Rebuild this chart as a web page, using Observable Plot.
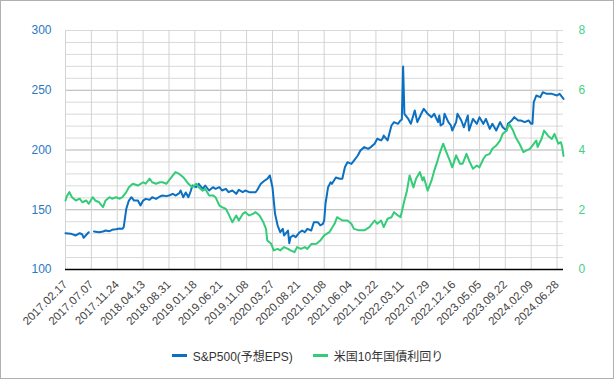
<!DOCTYPE html>
<html>
<head>
<meta charset="utf-8">
<script src="https://cdn.jsdelivr.net/npm/d3@7"></script>
<script src="https://cdn.jsdelivr.net/npm/@observablehq/plot@0.6"></script>
<style>
  html, body { margin: 0; padding: 0; background: #fff; }
  #wrap { position: relative; width: 615px; height: 380px; font-family: "Liberation Sans", Arial, "Noto Sans CJK JP", sans-serif; }
  #frame { position: absolute; left: 0; top: 0; width: 614px; height: 379px; box-sizing: border-box; border: 1px solid #b0b0b0; pointer-events: none; }
  #chart { position: absolute; left: 0; top: 0; }
  #legend { position: absolute; left: 0; top: 340px; width: 615px; height: 30px; display: flex; justify-content: center; align-items: center; gap: 20px; font-size: 12px; color: #333; font-family: "Liberation Sans", Arial, "Noto Sans CJK JP", sans-serif; }
  .item { display: flex; align-items: center; }
  .sw { width: 15px; height: 3px; margin-right: 6px; }
</style>
</head>
<body>
<div id="wrap">
  <div id="chart"></div>
  <div id="legend"></div>
  <div id="frame"></div>
</div>
<script>
// Weekly category axis (index = weeks since 2017.02.17)
const tickLabels = ["2017.02.17","2017.07.07","2017.11.24","2018.04.13","2018.08.31","2019.01.18","2019.06.21","2019.11.08","2020.03.27","2020.08.21","2021.01.08","2021.06.04","2021.10.22","2022.03.11","2022.07.29","2022.12.16","2023.05.05","2023.09.22","2024.02.09","2024.06.28"];
const tickWeeks = [0,20,40,60,80,100,120,140,160,180,200,220,240,260,280,300,320,340,360,380];

const seriesNames = ["S&P500(予想EPS)", "米国10年国債利回り"];

// S&P500 forward EPS (left axis)
const epsWeek = [0,4,8,11,13,14,17,18,20,22,26,29,31,34,36,39,42,44,45,47,49,51,53,56,58,60,62,65,67,70,73,75,78,80,83,85,88,89,91,93,95,97,98,101,103,106,108,111,114,116,119,121,124,126,129,132,134,137,139,142,145,147,148,151,154,156,158,160,161,162,164,166,168,169,170,172,173,174,176,178,181,183,185,187,190,192,195,197,199,200,201,203,205,206,209,212,214,216,218,221,223,226,228,231,234,236,239,241,244,245,246,249,252,254,257,259,260,261,262,265,267,270,272,275,277,280,283,285,288,289,290,292,293,296,298,299,302,303,306,308,311,312,315,318,320,323,325,328,330,333,336,338,341,342,345,347,350,352,355,358,360,361,362,364,367,369,372,376,380,382,384,385];
const epsValue = [130.4,130.0,128.5,130.4,129.3,126.5,130.1,131.2,NaN,131.8,131.2,131.8,132.6,132.1,133.2,133.7,134.3,134.0,135.4,150.8,157.7,160.5,157.7,157.7,153.6,157.7,159.1,158.3,160.5,159.1,161.1,161.9,161.4,161.9,163.3,161.9,163.9,166.1,160.5,164.5,160.5,166.1,170.3,168.9,171.7,167.5,170.3,166.1,168.9,167.5,168.9,166.1,167.5,164.7,166.1,163.3,166.7,164.7,166.1,164.7,164.7,164.7,166.1,171.7,174.5,175.9,178.7,168.9,157.7,146.6,136.8,131.2,134.0,128.5,129.9,132.6,122.0,127.0,128.5,127.1,131.2,132.6,131.2,134.0,132.6,139.6,139.6,137.0,138.2,141.0,155.0,168.9,173.0,171.7,177.0,175.9,175.9,185.6,189.8,188.4,191.2,195.4,199.6,202.4,201.0,202.4,205.2,209.4,208.0,209.4,212.1,208.0,220.5,223.3,221.9,224.7,225.5,269.9,230.3,226.0,221.9,233.0,223.3,230.3,234.5,230.3,227.5,230.3,223.3,228.9,220.5,222.0,230.3,223.3,220.5,216.3,223.3,230.3,224.7,219.0,228.9,216.3,226.0,221.9,227.4,221.9,226.0,217.7,221.9,216.3,223.3,219.1,216.3,221.9,224.7,227.5,224.7,224.7,223.3,224.7,221.9,222.0,240.0,245.6,244.2,248.4,247.0,247.0,245.6,247.0,244.2,242.8];

// US 10-year Treasury yield (right axis, %)
const yldWeek = [0,1,3,5,8,11,13,16,18,21,23,26,29,31,34,36,39,42,44,47,49,52,56,60,62,65,67,70,73,75,78,80,83,85,88,91,93,95,98,101,103,106,108,111,114,116,119,121,124,126,129,132,134,137,139,142,145,147,150,153,155,156,159,161,164,166,169,172,174,177,179,182,185,187,190,194,197,200,204,208,210,214,218,221,223,227,231,235,239,241,244,246,249,252,254,257,259,262,264,266,269,271,274,276,277,280,283,285,287,289,291,292,294,297,299,302,305,307,310,312,315,318,320,323,325,328,330,333,336,338,341,343,346,348,351,354,356,359,361,364,365,368,370,373,376,378,381,383,384,385];
const yldValue = [2.31,2.45,2.59,2.42,2.31,2.37,2.25,2.31,2.20,2.42,2.31,2.25,2.09,2.31,2.42,2.37,2.42,2.37,2.42,2.59,2.75,2.87,2.81,2.92,2.87,3.04,2.92,2.87,2.92,2.92,2.87,2.98,3.15,3.26,3.20,3.09,2.98,2.87,2.75,2.87,2.75,2.64,2.70,2.48,2.48,2.42,2.14,2.09,2.03,1.86,1.58,1.81,1.64,1.86,1.92,1.81,1.86,1.92,1.81,1.58,1.36,0.97,0.86,0.64,0.69,0.64,0.75,0.69,0.64,0.58,0.75,0.69,0.75,0.69,0.85,0.86,0.97,1.14,1.25,1.53,1.75,1.64,1.64,1.53,1.36,1.31,1.31,1.42,1.64,1.53,1.64,1.42,1.70,1.75,1.92,1.81,1.75,2.31,2.64,3.15,2.75,3.04,3.26,2.98,3.09,2.64,2.98,3.30,3.55,3.85,4.10,4.21,3.98,3.65,3.42,3.82,3.54,3.54,3.87,3.65,3.37,3.48,3.42,3.70,3.82,3.87,4.04,4.15,4.32,4.54,4.65,4.88,4.65,4.43,4.21,3.93,3.98,4.04,4.15,4.32,4.10,4.37,4.65,4.48,4.37,4.54,4.21,4.26,4.10,3.80];

const leftTicks = [100,150,200,250,300];
const rightTicks = [0,2,4,6,8];

const blue = "#0b6fc2";
const green = "#34cc78";

const eps = epsWeek.map((w, i) => ({w, v: epsValue[i]}));
const yld = yldWeek.map((w, i) => ({w, v: yldValue[i]}));
// right axis 0..8 is drawn against left scale 100..300
const toLeft = r => 100 + r * 25;

const minorGrid = d3.range(100, 301, 10).filter(t => !leftTicks.slice(1, 4).includes(t));

const chart = Plot.plot({
  width: 615,
  height: 340,
  marginTop: 30,
  marginBottom: 71,
  marginLeft: 65,
  marginRight: 52,
  style: {fontFamily: "'Liberation Sans', Arial, sans-serif", background: "transparent", overflow: "visible"},
  x: {type: "linear", domain: [0, 385]},
  y: {domain: [100, 300]},
  marks: [
    Plot.gridY({ticks: minorGrid, stroke: "#d9d9d9", strokeOpacity: 1}),
    Plot.gridY({ticks: leftTicks.slice(1, 4), stroke: "#b3b3b3", strokeOpacity: 1}),
    Plot.gridX({ticks: tickWeeks, stroke: "#d3d3d3", strokeOpacity: 1}),
    Plot.axisY({ticks: leftTicks, anchor: "left", tickSize: 0, tickPadding: 14, fontSize: 12, color: "#2a78c2", label: null}),
    Plot.axisY({ticks: rightTicks.map(toLeft), anchor: "right", tickSize: 0, tickPadding: 15, fontSize: 12, color: "#45d088", label: null, tickFormat: d => String((d - 100) / 25)}),
    Plot.axisX({ticks: tickWeeks, tickRotate: -45, tickSize: 0, tickPadding: 13, fontSize: 11.5, color: "#444", label: null, tickFormat: i => tickLabels[tickWeeks.indexOf(i)]}),
    Plot.line(eps, {x: "w", y: "v", stroke: blue, strokeWidth: 2}),
    Plot.line(yld, {x: "w", y: d => toLeft(d.v), stroke: green, strokeWidth: 2}),
    Plot.ruleY([100], {stroke: "#000", strokeWidth: 1.5})
  ]
});
document.getElementById("chart").appendChild(chart);

const legend = document.getElementById("legend");
[[seriesNames[0], blue], [seriesNames[1], green]].forEach(([name, col]) => {
  const it = document.createElement("div");
  it.className = "item";
  it.innerHTML = `<span class="sw" style="background:${col}"></span><span>${name}</span>`;
  legend.appendChild(it);
});
</script>
</body>
</html>
